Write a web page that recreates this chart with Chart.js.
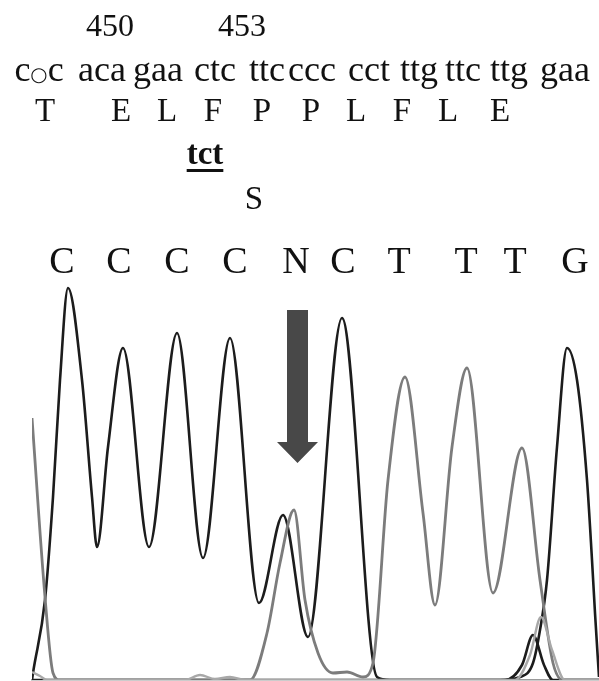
<!DOCTYPE html>
<html><head><meta charset="utf-8">
<script src="https://cdn.jsdelivr.net/npm/chart.js@4/dist/chart.umd.min.js"></script>
<style>
html,body{margin:0;padding:0;background:#fff;width:599px;height:681px;overflow:hidden;}
#wrap{position:relative;width:599px;height:681px;}
#c{position:absolute;left:0;top:0;}
.t{position:absolute;font-family:"Liberation Serif","Times New Roman",serif;color:#111;line-height:1;white-space:nowrap;transform:translateX(-50%);}
</style></head><body>
<div id="wrap"><canvas id="c" width="599" height="681"></canvas></div>
<script>
// ---- sequence annotation ----
const positionLabels = ['450', '453'];
const positionX = [110, 242];
const codons = ['c○c','aca','gaa','ctc','ttc','ccc','cct','ttg','ttc','ttg','gaa'];
const codonX = [39,102,158,215,267,312,369,419,463,509,565];
const aminoAcids = ['T','E','L','F','P','P','L','F','L','E'];
const aminoX = [45,121,167,213,262,311,356,402,448,500];
const mutantCodon = 'tct';
const mutantAmino = 'S';

// ---- base calls (top axis) ----
const baseCalls = ['C','C','C','C','N','C','T','T','T','G'];
const baseCallScan = [30,87,145,203,264,311,367,434,483,543];

// ---- traces: scan position / signal ----
const cScan   = [0, 1, 13, 21, 28, 36, 50, 60, 65, 76, 91, 117, 145, 171, 198, 227, 251, 276, 310, 345, 358, 473, 490, 501, 512, 521, 567];
const cSignal = [0, 7, 80, 183, 300, 392, 300, 183, 133, 233, 332, 133, 347, 122, 342, 77, 165, 43, 362, 3, 0, 0, 15, 45, 15, 0, 0];

const tScan   = [0, 13, 21, 28, 218, 235, 248, 262, 273, 286, 301, 315, 331, 341, 356, 373, 391, 403, 420, 435, 461, 490, 508, 521, 531, 567];
const tSignal = [262, 83, 7, 0, 0, 47, 117, 170, 80, 27, 7, 8, 3, 17, 200, 303, 167, 75, 233, 312, 87, 232, 100, 17, 0, 0];

const aScan   = [0, 8, 15, 153, 168, 183, 198, 213, 483, 498, 509, 520, 533, 567];
const aSignal = [8, 4, 0, 0, 5, 1, 3, 0, 0, 25, 63, 30, 0, 0];

const gScan   = [0, 468, 488, 501, 508, 515, 525, 535, 545, 555, 560, 563, 567];
const gSignal = [0, 0, 3, 17, 50, 100, 233, 332, 300, 200, 120, 67, 3];

// ---- mutation arrow (scan, signal units) ----
const arrowScan = 265.5, arrowTop = 370, arrowHeadBase = 238, arrowTip = 217;

// ---- text placement ----
const wrap = document.getElementById('wrap');
function addText(html, x, baseline, size, extra) {
  const d = document.createElement('div');
  d.className = 't';
  d.innerHTML = html;
  d.style.left = x + 'px';
  d.style.top = (baseline - 0.8375 * size) + 'px';
  d.style.fontSize = size + 'px';
  if (extra) Object.assign(d.style, extra);
  wrap.appendChild(d);
}
positionLabels.forEach((s, i) => addText(s, positionX[i], 36, 32));
codons.forEach((s, i) => addText(s.replace('○', '<span style="font-size:0.55em;line-height:0;font-family:\'DejaVu Sans\'">○</span>'), codonX[i], 81, 36));
aminoAcids.forEach((s, i) => addText(s, aminoX[i], 122, 33));
addText(mutantCodon, 205, 165, 33, {fontWeight:'bold', textDecoration:'underline', textDecorationThickness:'2.5px', textUnderlineOffset:'5px'});
addText(mutantAmino, 254, 210, 33);

const pts = (xs, ys) => xs.map((x, i) => ({x, y: ys[i]}));

const arrowPlugin = {
  id: 'mutationArrow',
  afterDatasetsDraw(chart) {
    const {ctx, scales: {x, y}} = chart;
    const cx = x.getPixelForValue(arrowScan);
    const top = y.getPixelForValue(arrowTop), base = y.getPixelForValue(arrowHeadBase), tip = y.getPixelForValue(arrowTip);
    ctx.save();
    ctx.fillStyle = '#484848';
    ctx.beginPath();
    ctx.moveTo(cx - 10.5, top); ctx.lineTo(cx + 10.5, top); ctx.lineTo(cx + 10.5, base);
    ctx.lineTo(cx + 20.5, base); ctx.lineTo(cx, tip); ctx.lineTo(cx - 20.5, base);
    ctx.lineTo(cx - 10.5, base); ctx.closePath(); ctx.fill();
    ctx.restore();
  }
};

new Chart(document.getElementById('c'), {
  type: 'line',
  data: { datasets: [
    {label: 'A', data: pts(aScan, aSignal), borderColor: '#a8a8a8', borderWidth: 2.4},
    {label: 'T', data: pts(tScan, tSignal), borderColor: '#7c7c7c', borderWidth: 2.8},
    {label: 'G', data: pts(gScan, gSignal), borderColor: '#1c1c1c', borderWidth: 2.6},
    {label: 'C', data: pts(cScan, cSignal), borderColor: '#1c1c1c', borderWidth: 2.6}
  ]},
  options: {
    responsive: false, animation: false, events: [],
    layout: {padding: {left: 32, right: 0, top: 236, bottom: 1}},
    elements: {point: {radius: 0}, line: {cubicInterpolationMode: 'monotone', fill: false}},
    plugins: {legend: {display: false}, tooltip: {enabled: false}},
    scales: {
      x: {
        type: 'linear', position: 'top', min: 0, max: 567,
        grid: {display: false, drawTicks: false}, border: {display: false},
        afterBuildTicks: s => { s.ticks = baseCallScan.map(v => ({value: v})); },
        afterFit: s => { s.height = 44; },
        ticks: {autoSkip: false, maxRotation: 0, minRotation: 0, padding: -6, color: '#111',
          font: {family: '"Liberation Serif", "Times New Roman", serif', size: 38},
          callback: (v, i) => baseCalls[i]}
      },
      x2: {
        type: 'linear', position: 'bottom', min: 0, max: 567,
        grid: {display: false, drawTicks: false},
        border: {display: true, color: '#9a9a9a', width: 1.5},
        ticks: {display: false},
        afterFit: s => { s.height = 0; }
      },
      y: {type: 'linear', display: false, min: 0, max: 400}
    }
  },
  plugins: [arrowPlugin]
});
</script>
</body></html>
